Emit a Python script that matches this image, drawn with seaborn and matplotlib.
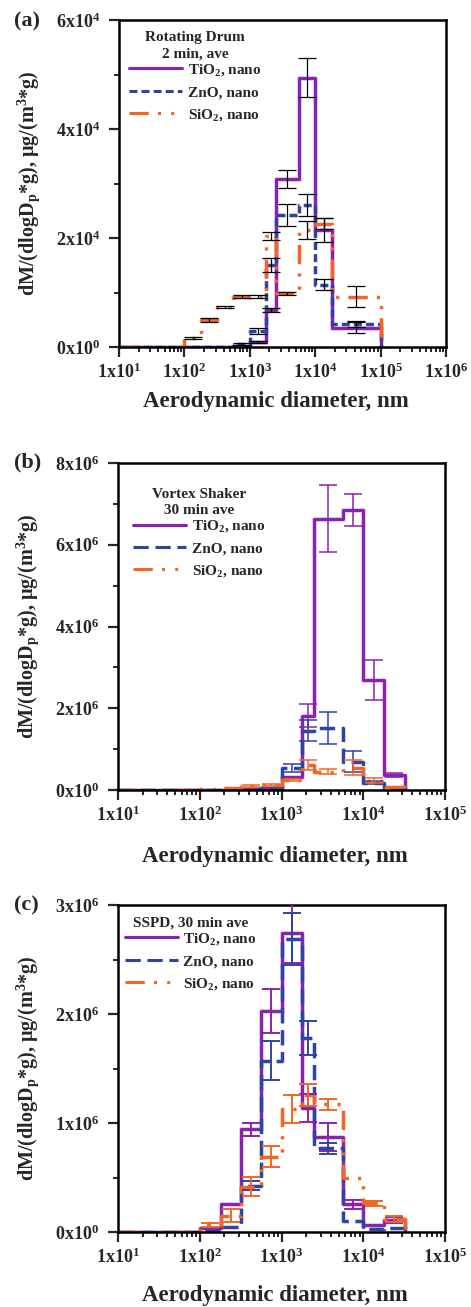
import numpy as np
import pandas as pd
import matplotlib
matplotlib.use("Agg")
import matplotlib.pyplot as plt
import seaborn as sns
import matplotlib.patheffects as pe
from matplotlib.lines import Line2D
from matplotlib.ticker import FixedLocator, LogLocator, NullFormatter, MultipleLocator

# ---------------- data ----------------
series_names = ["TiO$_2$, nano", "ZnO, nano", "SiO$_2$, nano"]

# panel (a) Rotating Drum, 2 min ave
edges_a = [10, 18, 32, 56, 100, 180, 320, 560, 1000, 1800, 2500, 5600, 10000, 18000, 100000]
tio2_a = [0, 0, 0, 0, 0, 0, 0, 200, 970, 6790, 30800, 49400, 21500, 3540]
zno_a = [0, 0, 0, 0, 0, 0, 0, 600, 2940, 15000, 24200, 26000, 11400, 4220]
sio2_a = [0, 0, 0, 0, 1600, 4950, 7280, 9230, 9230, 20400, 9850, 21500, 22600, 9230]
tio2_a_err = [0, 0, 0, 0, 0, 0, 0, 0, 200, 300, 1600, 3600, 2200, 1000]
zno_a_err = [0, 0, 0, 0, 0, 0, 0, 200, 600, 1300, 2000, 2000, 1000, 500]
sio2_a_err = [0, 0, 0, 0, 200, 300, 200, 300, 300, 700, 300, 1700, 1000, 1900]

# panel (b) Vortex Shaker, 30 min ave
edges_b = [10, 18, 32, 56, 100, 180, 320, 560, 1000, 1800, 2500, 5600, 10000, 18000, 32000]
tio2_b = [0, 0, 0, 0, 0, 10e3, 20e3, 40e3, 310e3, 1.82e6, 6.64e6, 6.85e6, 2.69e6, 367e3]
zno_b = [0, 0, 0, 0, 5e3, 10e3, 20e3, 40e3, 540e3, 1.45e6, 1.52e6, 693e3, 180e3, 50e3]
sio2_b = [0, 0, 0, 5e3, 20e3, 50e3, 98e3, 122e3, 245e3, 612e3, 450e3, 546e3, 228e3, 65e3]
tio2_b_err = [0, 0, 0, 0, 0, 0, 0, 0, 0, 0.28e6, 0.82e6, 0.38e6, 0.48e6, 50e3]
zno_b_err = [0, 0, 0, 0, 0, 0, 0, 0, 90e3, 0.26e6, 0.4e6, 0.26e6, 40e3, 0]
sio2_b_err = [0, 0, 0, 0, 0, 0, 20e3, 20e3, 30e3, 120e3, 70e3, 190e3, 60e3, 20e3]

# panel (c) SSPD, 30 min ave
edges_c = [10, 18, 32, 56, 100, 180, 320, 560, 1000, 1800, 2500, 5600, 10000, 18000, 32000]
tio2_c = [0, 0, 0, 0, 34e3, 254e3, 942e3, 2.03e6, 2.74e6, 1.14e6, 874e3, 254e3, 64e3, 110e3]
zno_c = [0, 0, 0, 0, 12e3, 43e3, 425e3, 1.57e6, 2.69e6, 1.78e6, 768e3, 101e3, 25e3, 34e3]
sio2_c = [0, 0, 0, 0, 64e3, 150e3, 416e3, 691e3, 1.13e6, 1.26e6, 1.17e6, 495e3, 263e3, 119e3]
tio2_c_err = [0, 0, 0, 0, 0, 0, 60e3, 0.2e6, 0.27e6, 0.13e6, 0.13e6, 40e3, 0, 30e3]
zno_c_err = [0, 0, 0, 0, 0, 0, 40e3, 0.18e6, 0.24e6, 0.16e6, 50e3, 0, 0, 0]
sio2_c_err = [0, 0, 0, 0, 20e3, 60e3, 85e3, 95e3, 0.13e6, 0.1e6, 50e3, 0, 25e3, 25e3]

titles = ["Rotating Drum\n2 min, ave", "Vortex Shaker\n30 min ave", "SSPD, 30 min ave"]
panel_tags = ["(a)", "(b)", "(c)"]

# ---------------- style ----------------
sns.set_style("ticks")
plt.rcParams["font.family"] = ["Liberation Serif", "DejaVu Serif"]
plt.rcParams["font.weight"] = "bold"
plt.rcParams["mathtext.fontset"] = "custom"
plt.rcParams["mathtext.rm"] = "Liberation Serif:bold"
plt.rcParams["mathtext.it"] = "Liberation Serif:bold"
plt.rcParams["mathtext.bf"] = "Liberation Serif:bold"
plt.rcParams["mathtext.default"] = "rm"
plt.rcParams["lines.scale_dashes"] = False

PURPLE = "#8a22b0"
BLUE = "#2e44a2"
ORANGE = "#f26524"
colors = [PURPLE, BLUE, ORANGE]
LW = 2.2
dash_zno_a = (0, (5.7, 3.0))
dash_zno_bc = (0, (11.0, 4.8))
dash_sio2 = (0, (13.9, 6.6, 2.2, 7.3, 2.2, 6.6))

W, H = 471, 1307
fig = plt.figure(figsize=(W / 100, H / 100), dpi=100)

def frac_box(top_px, bottom_px, left_px=119, right_px=446):
    return [left_px / W, 1 - bottom_px / H, (right_px - left_px) / W, (bottom_px - top_px) / H]

axes_boxes = [frac_box(20, 347, 119, 446), frac_box(463, 790, 118, 445), frac_box(905, 1232, 118, 445)]


def step_series(ax, edges, vals, color, ls):
    x = np.asarray(edges, float)
    y = np.append(np.asarray(vals, float), 0.0)
    df = pd.DataFrame({"x": x, "y": y})
    sns.lineplot(data=df, x="x", y="y", ax=ax, color=color, lw=LW,
                 drawstyle="steps-post", sort=False, estimator=None, errorbar=None)
    line = ax.lines[-1]
    line.set_linestyle(ls)
    line.set_path_effects([pe.Stroke(linewidth=LW + 1.4, foreground=color, alpha=0.22), pe.Normal()])
    return line


def err_series(ax, edges, vals, err, color, lw, cap):
    e = np.asarray(edges, float)
    c = np.sqrt(e[:-1] * e[1:])
    v = np.asarray(vals, float)
    er = np.asarray(err, float)
    m = er > 0
    ax.errorbar(c[m], v[m], yerr=er[m], fmt="none", ecolor=color, elinewidth=lw,
                capsize=cap, capthick=lw, zorder=5)


def sci(v):
    if v == 0:
        return "0x10$^{0}$"
    e = int(np.floor(np.log10(v) + 1e-9))
    m = v / 10 ** e
    return f"{m:g}x10$^{{{e}}}$"


panels = [
    dict(edges=edges_a, vals=[tio2_a, zno_a, sio2_a], errs=[tio2_a_err, zno_a_err, sio2_a_err],
         xmax=6, ymax=6e4, ystep=2e4, yminor=1e4, zdash=dash_zno_a, ecol=["black"] * 3, elw=0.9,
         leg=(0.03, 0.965), tag_y=21, xlab_y=-0.135),
    dict(edges=edges_b, vals=[tio2_b, zno_b, sio2_b], errs=[tio2_b_err, zno_b_err, sio2_b_err],
         xmax=5, ymax=8e6, ystep=2e6, yminor=1e6, zdash=dash_zno_bc, ecol=colors, elw=1.1,
         leg=(0.045, 0.925), tag_y=462, xlab_y=-0.172),
    dict(edges=edges_c, vals=[tio2_c, zno_c, sio2_c], errs=[tio2_c_err, zno_c_err, sio2_c_err],
         xmax=5, ymax=3e6, ystep=1e6, yminor=5e5, zdash=dash_zno_bc, ecol=colors, elw=1.4,
         leg=(0.02, 0.965), tag_y=905, xlab_y=-0.162),
]

for i, p in enumerate(panels):
    ax = fig.add_axes(axes_boxes[i])
    styles = ["-", p["zdash"], dash_sio2]
    handles = []
    for j in range(3):
        step_series(ax, p["edges"], p["vals"][j], colors[j], styles[j])
        handles.append(Line2D([0], [0], color=colors[j], lw=LW, linestyle=styles[j]))
    for j in range(3):
        err_series(ax, p["edges"], p["vals"][j], p["errs"][j], p["ecol"][j], p["elw"], 6.5)

    ax.set_xscale("log")
    ax.set_xlim(10, 10 ** p["xmax"])
    ax.set_ylim(0, p["ymax"])
    xt = [10.0 ** k for k in range(1, p["xmax"] + 1)]
    ax.xaxis.set_major_locator(FixedLocator(xt))
    ax.set_xticklabels([f"1x10$^{{{k}}}$" for k in range(1, p["xmax"] + 1)])
    ax.xaxis.set_minor_locator(LogLocator(base=10, subs=np.arange(2, 10), numticks=20))
    ax.xaxis.set_minor_formatter(NullFormatter())
    yt = np.arange(0, p["ymax"] + 1, p["ystep"])
    ax.yaxis.set_major_locator(FixedLocator(yt))
    ax.set_yticklabels([sci(v) for v in yt])
    ax.yaxis.set_minor_locator(MultipleLocator(p["yminor"]))

    ax.tick_params(axis="both", which="major", direction="out", length=7.5, width=1.6,
                   labelsize=13, top=False, right=False)
    ax.tick_params(axis="y", which="major", pad=6)
    ax.tick_params(axis="x", which="major", pad=4)
    ax.tick_params(axis="both", which="minor", direction="out", length=3.8, width=1.4,
                   top=False, right=False)
    for s in ax.spines.values():
        s.set_linewidth(1.8)
        s.set_color("black")
        s.set_visible(True)

    ax.set_xlabel("Aerodynamic diameter, nm", fontsize=16.5, fontweight="bold")
    ax.set_ylabel("dM/(dlogD$_{p}$*g), μg/(m$^{3}$*g)", fontsize=14.5, fontweight="bold")
    ax.xaxis.set_label_coords(0.48, p["xlab_y"])
    ax.yaxis.set_label_coords(-0.235, 0.5)

    leg = ax.legend(handles, series_names, title=titles[i], frameon=False, loc="upper left",
                    bbox_to_anchor=p["leg"], borderpad=0, borderaxespad=0,
                    handlelength=3.5, handletextpad=0.35, labelspacing=0.5,
                    prop={"family": "Liberation Serif", "weight": "bold", "size": 11},
                    title_fontproperties={"family": "Liberation Serif", "weight": "bold", "size": 11})
    leg.get_title().set_multialignment("center")
    leg.get_title().set_linespacing(1.35)
    leg._legend_box.sep = 1

    fig.text(14 / W, 1 - p["tag_y"] / H, panel_tags[i], fontsize=16, fontweight="bold",
             ha="left", va="center")

fig.savefig("out.png", dpi=100)
